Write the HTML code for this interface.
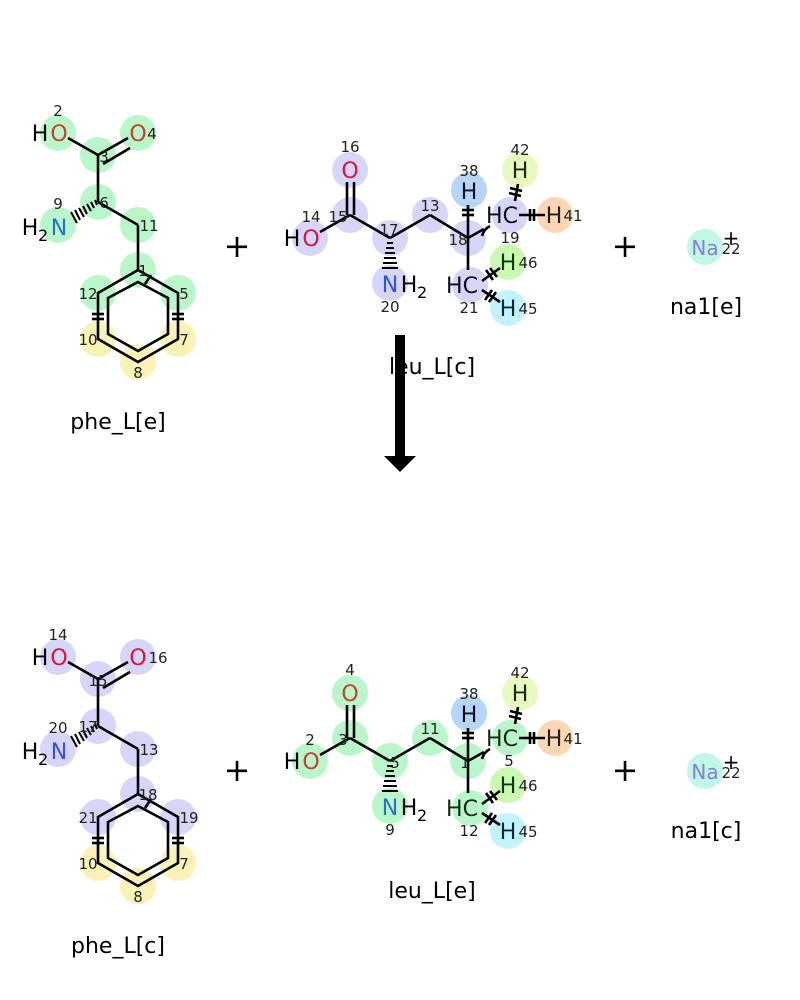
<!DOCTYPE html>
<html><head><meta charset="utf-8"><style>
html,body{margin:0;padding:0;background:#fff;}
svg{display:block;}
text{font-family:"DejaVu Sans","Liberation Sans",sans-serif;}
.n{font-size:15px;fill:#222;text-anchor:middle;}
.a{font-size:22px;text-anchor:middle;}
.t{font-size:22px;text-anchor:middle;fill:#000;}
.b{stroke:#000;stroke-width:2.6;fill:none;}
</style></head><body>
<svg width="800" height="1000" viewBox="0 0 800 1000" xmlns="http://www.w3.org/2000/svg">
<rect width="800" height="1000" fill="#fff"/>

<!-- ===== phe top ===== -->
<g>
<g fill="#b9f7cb">
<circle cx="58" cy="133" r="18"/><circle cx="138" cy="133" r="18"/><circle cx="98" cy="155" r="18"/>
<circle cx="98" cy="202" r="18"/><circle cx="58" cy="225" r="18"/><circle cx="138" cy="225" r="18"/>
<circle cx="138" cy="270" r="18"/><circle cx="98" cy="293" r="18"/><circle cx="178" cy="293" r="18"/>
</g>
<g fill="#fbf2b6"><circle cx="98" cy="339" r="18"/><circle cx="178" cy="339" r="18"/><circle cx="138" cy="362" r="18"/></g>
<g class="b" stroke="#0f2a14">
<line x1="68" y1="138" x2="98" y2="155"/>
<line x1="98" y1="155" x2="128" y2="138"/><line x1="103" y1="164" x2="130" y2="148"/>
<line x1="98" y1="155" x2="98" y2="202"/>
<line x1="98" y1="202" x2="138" y2="225"/><line x1="138" y1="225" x2="138" y2="270"/>
<polygon points="138,270 178,293 178,339 138,362 98,339 98,293"/>
<polygon points="138,282 168,298 168,334 138,351 108,334 108,298"/>
<line x1="145" y1="284" x2="151" y2="275"/>
<line x1="92" y1="314" x2="104" y2="314"/><line x1="92" y1="319" x2="104" y2="319"/>
<line x1="172" y1="314" x2="184" y2="314"/><line x1="172" y1="319" x2="184" y2="319"/>
</g>
<g stroke="#000" stroke-width="2">
<line x1="95" y1="200" x2="97" y2="205"/><line x1="91" y1="202" x2="94" y2="208"/><line x1="87" y1="204" x2="91" y2="211"/><line x1="83" y1="206" x2="87" y2="214"/><line x1="79" y1="208" x2="84" y2="217"/><line x1="75" y1="210" x2="80" y2="220"/><line x1="71" y1="212" x2="77" y2="223"/>
</g>
<text class="a" x="40" y="141" fill="#000">H</text><text class="a" x="59" y="141" fill="#c8402a">O</text>
<text class="a" x="138" y="141" fill="#c8402a">O</text>
<text class="a" x="30" y="235" fill="#000">H</text><text x="38" y="241" font-size="16" fill="#000">2</text><text class="a" x="59" y="235" fill="#2a70d0">N</text>
<text class="n" x="58" y="116">2</text><text class="n" x="104" y="162">3</text><text class="n" x="152" y="139">4</text>
<text class="n" x="58" y="209">9</text><text class="n" x="104" y="208">6</text><text class="n" x="149" y="231">11</text>
<text class="n" x="143" y="276">1</text><text class="n" x="88" y="299">12</text><text class="n" x="184" y="299">5</text>
<text class="n" x="88" y="345">10</text><text class="n" x="184" y="345">7</text><text class="n" x="138" y="378">8</text>
</g>

<!-- ===== phe bottom ===== -->
<g transform="translate(0,524)">
<g fill="#d6d6fa">
<circle cx="58" cy="133" r="18"/><circle cx="138" cy="133" r="18"/><circle cx="98" cy="155" r="18"/>
<circle cx="98" cy="202" r="18"/><circle cx="58" cy="225" r="18"/><circle cx="138" cy="225" r="18"/>
<circle cx="138" cy="270" r="18"/><circle cx="98" cy="293" r="18"/><circle cx="178" cy="293" r="18"/>
</g>
<g fill="#fbf2b6"><circle cx="98" cy="339" r="18"/><circle cx="178" cy="339" r="18"/><circle cx="138" cy="362" r="18"/></g>
<g class="b" stroke="#0a0a20">
<line x1="68" y1="138" x2="98" y2="155"/>
<line x1="98" y1="155" x2="128" y2="138"/><line x1="103" y1="164" x2="130" y2="148"/>
<line x1="98" y1="155" x2="98" y2="202"/>
<line x1="98" y1="202" x2="138" y2="225"/><line x1="138" y1="225" x2="138" y2="270"/>
<polygon points="138,270 178,293 178,339 138,362 98,339 98,293"/>
<polygon points="138,282 168,298 168,334 138,351 108,334 108,298"/>
<line x1="145" y1="284" x2="151" y2="275"/>
<line x1="92" y1="314" x2="104" y2="314"/><line x1="92" y1="319" x2="104" y2="319"/>
<line x1="172" y1="314" x2="184" y2="314"/><line x1="172" y1="319" x2="184" y2="319"/>
</g>
<g stroke="#000" stroke-width="2">
<line x1="95" y1="200" x2="97" y2="205"/><line x1="91" y1="202" x2="94" y2="208"/><line x1="87" y1="204" x2="91" y2="211"/><line x1="83" y1="206" x2="87" y2="214"/><line x1="79" y1="208" x2="84" y2="217"/><line x1="75" y1="210" x2="80" y2="220"/><line x1="71" y1="212" x2="77" y2="223"/>
</g>
<text class="a" x="40" y="141" fill="#000">H</text><text class="a" x="59" y="141" fill="#e0103a">O</text>
<text class="a" x="138" y="141" fill="#e0103a">O</text>
<text class="a" x="30" y="235" fill="#000">H</text><text x="38" y="241" font-size="16" fill="#000">2</text><text class="a" x="59" y="235" fill="#3050f0">N</text>
<text class="n" x="58" y="116">14</text><text class="n" x="98" y="162">15</text><text class="n" x="158" y="139">16</text>
<text class="n" x="58" y="209">20</text><text class="n" x="88" y="208">17</text><text class="n" x="149" y="231">13</text>
<text class="n" x="148" y="276">18</text><text class="n" x="88" y="299">21</text><text class="n" x="189" y="299">19</text>
<text class="n" x="88" y="345">10</text><text class="n" x="184" y="345">7</text><text class="n" x="138" y="378">8</text>
</g>

<!-- ===== leu top ===== -->
<g>
<g fill="#d6d6fa">
<circle cx="310" cy="238" r="18"/><circle cx="350" cy="215" r="18"/><circle cx="350" cy="170" r="18"/>
<circle cx="390" cy="238" r="18"/><circle cx="390" cy="283" r="18"/><circle cx="430" cy="215" r="18"/>
<circle cx="468" cy="238" r="18"/><circle cx="510" cy="215" r="18"/><circle cx="470" cy="285" r="18"/>
</g>
<circle cx="469" cy="190" r="18" fill="#b5d5fb"/>
<circle cx="520" cy="170" r="18" fill="#e9fac0"/>
<circle cx="555" cy="215" r="18" fill="#fdd6b6"/>
<circle cx="508" cy="262" r="18" fill="#cbf9b2"/>
<circle cx="508" cy="308" r="18" fill="#c3f4fb"/>
<g class="b" stroke="#0a0a20">
<line x1="320" y1="232" x2="350" y2="215"/>
<line x1="347" y1="215" x2="347" y2="182"/><line x1="354" y1="215" x2="354" y2="182"/>
<line x1="350" y1="215" x2="390" y2="238"/><line x1="390" y1="238" x2="430" y2="215"/><line x1="430" y1="215" x2="468" y2="238"/>
<line x1="468" y1="238" x2="468" y2="205"/><line x1="462" y1="210" x2="474" y2="210"/><line x1="462" y1="215" x2="474" y2="215"/>
<line x1="468" y1="238" x2="484" y2="229"/><path d="M482,236 Q484,229 490,226"/>
<line x1="468" y1="238" x2="468" y2="270"/>
<line x1="515" y1="201" x2="518" y2="184"/><line x1="509" y1="193" x2="521" y2="196"/><line x1="510" y1="188" x2="522" y2="191"/>
<line x1="519" y1="215" x2="545" y2="215"/><line x1="530" y1="209" x2="530" y2="221"/><line x1="534" y1="209" x2="534" y2="221"/>
<line x1="482" y1="281" x2="500" y2="268"/><line x1="486" y1="270" x2="493" y2="280"/><line x1="490" y1="268" x2="497" y2="277"/>
<line x1="482" y1="290" x2="500" y2="302"/><line x1="485" y1="300" x2="492" y2="290"/><line x1="489" y1="302" x2="496" y2="292"/>
</g>
<g stroke="#000" stroke-width="2">
<line x1="387" y1="243" x2="393" y2="243"/><line x1="386" y1="248" x2="394" y2="248"/><line x1="385" y1="253" x2="395" y2="253"/><line x1="384" y1="258" x2="396" y2="258"/><line x1="383" y1="263" x2="397" y2="263"/><line x1="382" y1="268" x2="398" y2="268"/>
</g>
<text class="a" x="292" y="246" fill="#000">H</text><text class="a" x="311" y="246" fill="#e0103a">O</text>
<text class="a" x="350" y="178" fill="#e0103a">O</text>
<text class="a" x="390" y="292" fill="#3050f0">N</text><text class="a" x="409" y="292" fill="#000">H</text><text x="417" y="298" font-size="16" fill="#000">2</text>
<text class="a" x="469" y="199" fill="#0a0a20">H</text>
<text class="a" x="502" y="223" fill="#0a0a20">HC</text>
<text class="a" x="520" y="178" fill="#1a2a0a">H</text>
<text class="a" x="554" y="223" fill="#2a1a0a">H</text>
<text class="a" x="462" y="293" fill="#0a0a20">HC</text>
<text class="a" x="508" y="270" fill="#0a3a0a">H</text>
<text class="a" x="508" y="316" fill="#0a2a3a">H</text>
<text class="n" x="350" y="152">16</text><text class="n" x="311" y="222">14</text><text class="n" x="338" y="222">15</text>
<text class="n" x="389" y="235">17</text><text class="n" x="430" y="211">13</text><text class="n" x="458" y="245">18</text>
<text class="n" x="469" y="176">38</text><text class="n" x="520" y="155">42</text><text class="n" x="510" y="243">19</text>
<text class="n" x="573" y="221">41</text><text class="n" x="528" y="268">46</text><text class="n" x="390" y="312">20</text>
<text class="n" x="469" y="313">21</text><text class="n" x="528" y="314">45</text>
</g>

<!-- ===== leu bottom ===== -->
<g transform="translate(0,523)">
<g fill="#b9f7cb">
<circle cx="310" cy="238" r="18"/><circle cx="350" cy="215" r="18"/><circle cx="350" cy="170" r="18"/>
<circle cx="390" cy="238" r="18"/><circle cx="390" cy="283" r="18"/><circle cx="430" cy="215" r="18"/>
<circle cx="468" cy="238" r="18"/><circle cx="510" cy="215" r="18"/><circle cx="470" cy="285" r="18"/>
</g>
<circle cx="469" cy="190" r="18" fill="#b5d5fb"/>
<circle cx="520" cy="170" r="18" fill="#e9fac0"/>
<circle cx="555" cy="215" r="18" fill="#fdd6b6"/>
<circle cx="508" cy="262" r="18" fill="#cbf9b2"/>
<circle cx="508" cy="308" r="18" fill="#c3f4fb"/>
<g class="b" stroke="#0f2a14">
<line x1="320" y1="232" x2="350" y2="215"/>
<line x1="347" y1="215" x2="347" y2="182"/><line x1="354" y1="215" x2="354" y2="182"/>
<line x1="350" y1="215" x2="390" y2="238"/><line x1="390" y1="238" x2="430" y2="215"/><line x1="430" y1="215" x2="468" y2="238"/>
<line x1="468" y1="238" x2="468" y2="205"/><line x1="462" y1="210" x2="474" y2="210"/><line x1="462" y1="215" x2="474" y2="215"/>
<line x1="468" y1="238" x2="484" y2="229"/><path d="M482,236 Q484,229 490,226"/>
<line x1="468" y1="238" x2="468" y2="270"/>
<line x1="515" y1="201" x2="518" y2="184"/><line x1="509" y1="193" x2="521" y2="196"/><line x1="510" y1="188" x2="522" y2="191"/>
<line x1="519" y1="215" x2="545" y2="215"/><line x1="530" y1="209" x2="530" y2="221"/><line x1="534" y1="209" x2="534" y2="221"/>
<line x1="482" y1="281" x2="500" y2="268"/><line x1="486" y1="270" x2="493" y2="280"/><line x1="490" y1="268" x2="497" y2="277"/>
<line x1="482" y1="290" x2="500" y2="302"/><line x1="485" y1="300" x2="492" y2="290"/><line x1="489" y1="302" x2="496" y2="292"/>
</g>
<g stroke="#000" stroke-width="2">
<line x1="387" y1="243" x2="393" y2="243"/><line x1="386" y1="248" x2="394" y2="248"/><line x1="385" y1="253" x2="395" y2="253"/><line x1="384" y1="258" x2="396" y2="258"/><line x1="383" y1="263" x2="397" y2="263"/><line x1="382" y1="268" x2="398" y2="268"/>
</g>
<text class="a" x="292" y="246" fill="#000">H</text><text class="a" x="311" y="246" fill="#c8402a">O</text>
<text class="a" x="350" y="178" fill="#c8402a">O</text>
<text class="a" x="390" y="292" fill="#2a70d0">N</text><text class="a" x="409" y="292" fill="#000">H</text><text x="417" y="298" font-size="16" fill="#000">2</text>
<text class="a" x="469" y="199" fill="#0a0a20">H</text>
<text class="a" x="502" y="223" fill="#0f2a14">HC</text>
<text class="a" x="520" y="178" fill="#1a2a0a">H</text>
<text class="a" x="554" y="223" fill="#2a1a0a">H</text>
<text class="a" x="462" y="293" fill="#0f2a14">HC</text>
<text class="a" x="508" y="270" fill="#0a3a0a">H</text>
<text class="a" x="508" y="316" fill="#0a2a3a">H</text>
<text class="n" x="350" y="152">4</text><text class="n" x="310" y="222">2</text><text class="n" x="343" y="222">3</text>
<text class="n" x="395" y="245">5</text><text class="n" x="430" y="211">11</text><text class="n" x="465" y="245">1</text>
<text class="n" x="469" y="176">38</text><text class="n" x="520" y="155">42</text><text class="n" x="509" y="243">5</text>
<text class="n" x="573" y="221">41</text><text class="n" x="528" y="268">46</text><text class="n" x="390" y="312">9</text>
<text class="n" x="469" y="313">12</text><text class="n" x="528" y="314">45</text>
</g>

<!-- Na top/bottom -->
<circle cx="705" cy="247" r="18" fill="#c0f7e6"/>
<text x="705" y="255" font-size="20" text-anchor="middle" fill="#8080e0">Na</text>
<text x="731" y="245" font-size="20" text-anchor="middle" fill="#000">+</text>
<text class="n" x="731" y="254">22</text>
<circle cx="705" cy="771" r="18" fill="#c0f7e6"/>
<text x="705" y="779" font-size="20" text-anchor="middle" fill="#8080e0">Na</text>
<text x="731" y="769" font-size="20" text-anchor="middle" fill="#000">+</text>
<text class="n" x="731" y="778">22</text>

<!-- plus signs -->
<text x="237" y="257" font-size="32" text-anchor="middle">+</text>
<text x="625" y="257" font-size="32" text-anchor="middle">+</text>
<text x="237" y="781" font-size="32" text-anchor="middle">+</text>
<text x="625" y="781" font-size="32" text-anchor="middle">+</text>

<!-- names -->
<text class="t" x="118" y="429">phe_L[e]</text>
<text class="t" x="432" y="374">leu_L[c]</text>
<text class="t" x="706" y="314">na1[e]</text>
<text class="t" x="118" y="953">phe_L[c]</text>
<text class="t" x="432" y="898">leu_L[e]</text>
<text class="t" x="706" y="838">na1[c]</text>

<!-- arrow -->
<rect x="395" y="335" width="10" height="122" fill="#000"/>
<polygon points="384,456 416,456 400,472" fill="#000"/>
</svg>
</body></html>
